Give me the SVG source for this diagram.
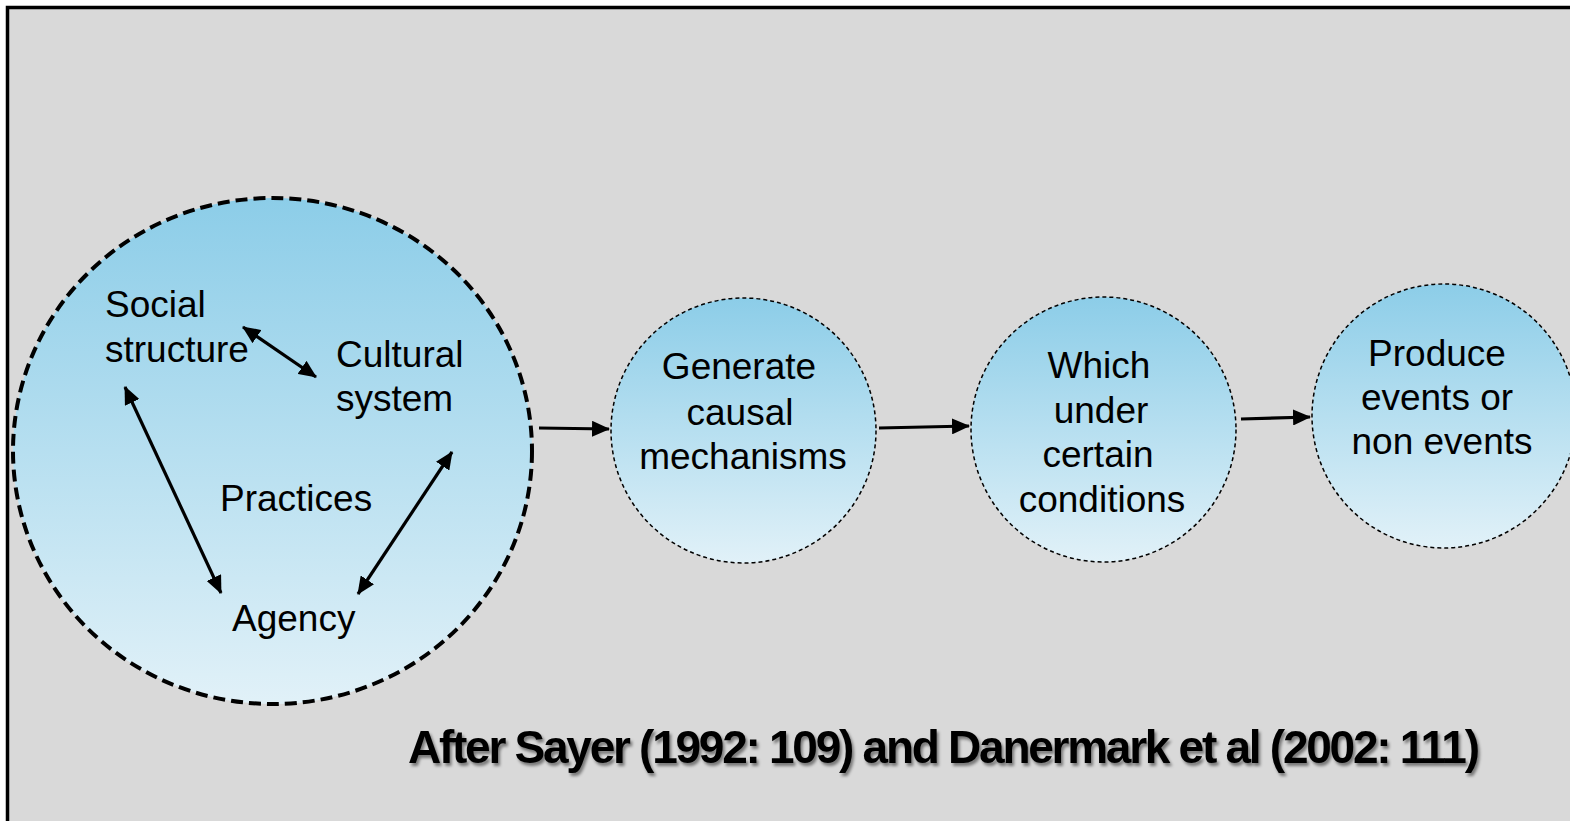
<svg xmlns="http://www.w3.org/2000/svg" width="1570" height="821" viewBox="0 0 1570 821">
<style>
.lbl{font-family:"Liberation Sans",Arial,sans-serif;font-size:37px;fill:#000}
.mid{text-anchor:middle}
.conn{stroke:#000;stroke-width:3.2;fill:none}
.small{fill:url(#grad);stroke:#000;stroke-width:1.5;stroke-dasharray:4 3}
.title{font-family:"Liberation Sans",Arial,sans-serif;font-size:46px;font-weight:bold;fill:#000}
</style>
<defs>
<linearGradient id="grad" x1="0" y1="0" x2="0" y2="1">
<stop offset="0" stop-color="#8ccde8"/>
<stop offset="1" stop-color="#e1f1f8"/>
</linearGradient>
<marker id="ah" markerUnits="userSpaceOnUse" markerWidth="18" markerHeight="16" refX="17" refY="8" orient="auto-start-reverse">
<path d="M0,0 L18,8 L0,16 z" fill="#000"/>
</marker>
<filter id="shadow" filterUnits="userSpaceOnUse" x="380" y="700" width="1150" height="100">
<feDropShadow dx="2" dy="3" stdDeviation="1.5" flood-color="#000" flood-opacity="0.45"/>
</filter>
</defs>
<rect x="0" y="0" width="1570" height="821" fill="#ffffff"/>
<rect x="7.5" y="7.5" width="1600" height="900" fill="#d9d9d9" stroke="#000" stroke-width="3.5"/>

<g id="node-practices">
<ellipse cx="272.5" cy="451" rx="259.5" ry="253" fill="url(#grad)" stroke="#000" stroke-width="4" stroke-dasharray="12 6"/>
<text class="lbl" x="105" y="317">Social</text>
<text class="lbl" x="105" y="362">structure</text>
<text class="lbl" x="336" y="367">Cultural</text>
<text class="lbl" x="336" y="411">system</text>
<text class="lbl" x="220" y="511">Practices</text>
<text class="lbl" x="232" y="631">Agency</text>
</g>
<g id="node-generate">
<circle class="small" cx="743.5" cy="430.5" r="132.5"/>
<text class="lbl mid" x="739" y="379">Generate</text>
<text class="lbl mid" x="740" y="425">causal</text>
<text class="lbl mid" x="743" y="469">mechanisms</text>
</g>
<g id="node-which">
<circle class="small" cx="1103.5" cy="429.5" r="132.5"/>
<text class="lbl mid" x="1099" y="378">Which</text>
<text class="lbl mid" x="1101" y="423">under</text>
<text class="lbl mid" x="1098" y="467">certain</text>
<text class="lbl mid" x="1102" y="512">conditions</text>
</g>
<g id="node-produce">
<circle class="small" cx="1444" cy="416" r="132"/>
<text class="lbl mid" x="1437" y="366">Produce</text>
<text class="lbl mid" x="1437" y="410">events or</text>
<text class="lbl mid" x="1442" y="454">non events</text>
</g>

<g id="connectors">
<line class="conn" x1="243" y1="327" x2="316" y2="377" marker-start="url(#ah)" marker-end="url(#ah)"/>
<line class="conn" x1="125" y1="387" x2="221" y2="593" marker-start="url(#ah)" marker-end="url(#ah)"/>
<line class="conn" x1="452" y1="452" x2="358" y2="594" marker-start="url(#ah)" marker-end="url(#ah)"/>
<line class="conn" x1="539" y1="428" x2="609" y2="429" marker-end="url(#ah)"/>
<line class="conn" x1="879" y1="428" x2="969" y2="426" marker-end="url(#ah)"/>
<line class="conn" x1="1241" y1="419" x2="1310" y2="417" marker-end="url(#ah)"/>
</g>

<text class="title" x="408" y="763" textLength="1072" lengthAdjust="spacing" filter="url(#shadow)">After Sayer (1992: 109) and Danermark et al (2002: 111)</text>
</svg>
